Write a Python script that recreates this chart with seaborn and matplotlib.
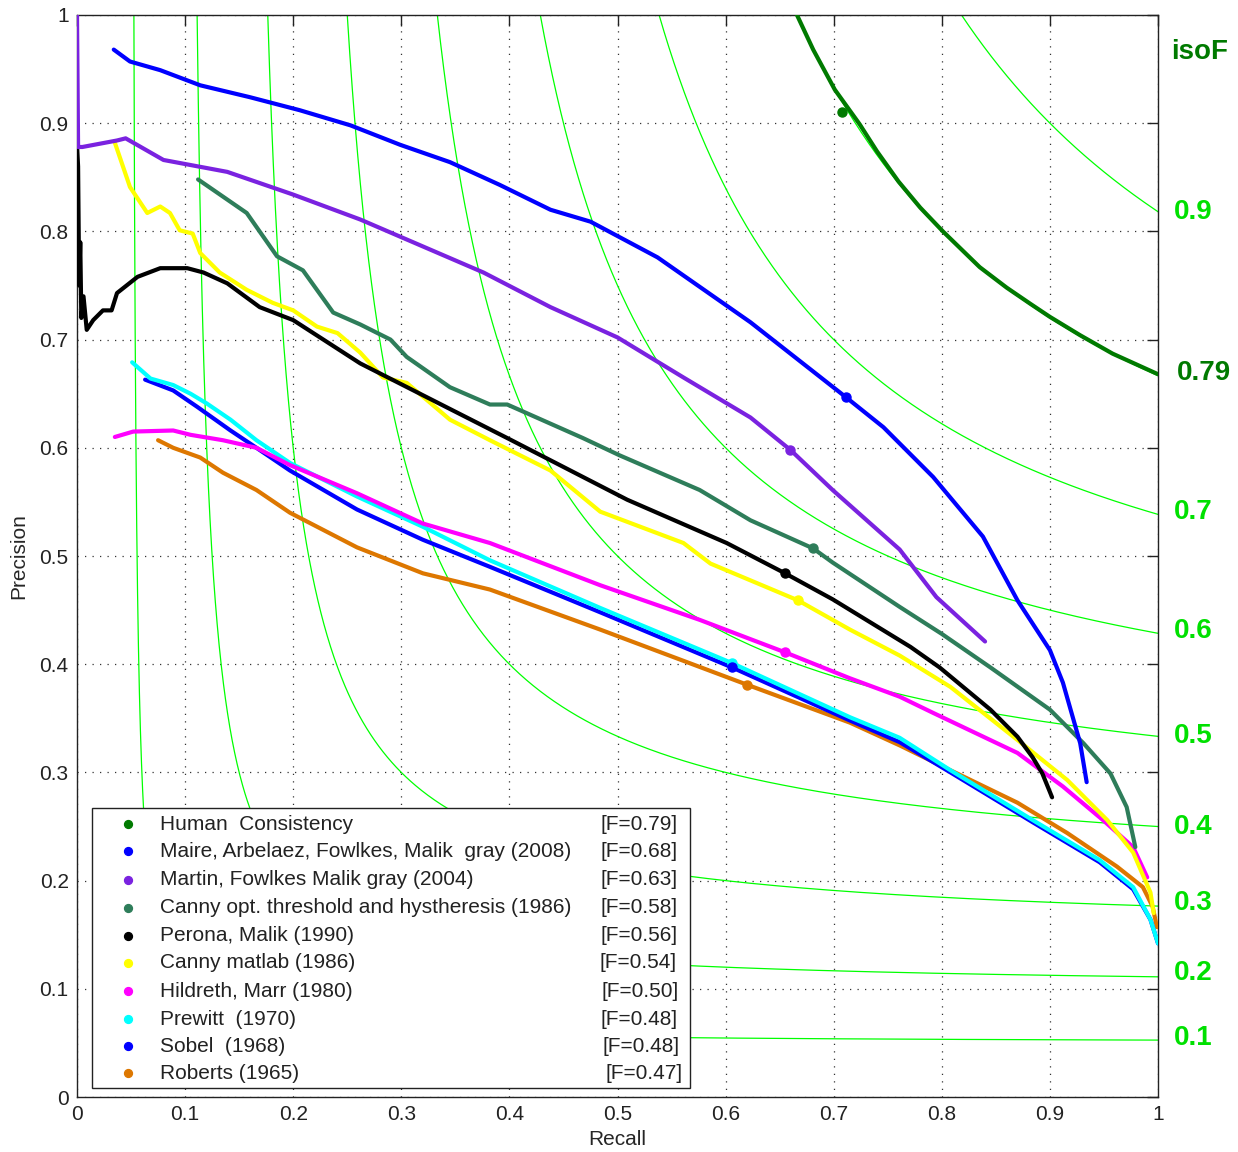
import matplotlib.pyplot as plt
import matplotlib.patches as mpatches
import seaborn as sns
import pandas as pd
import numpy as np

sns.set_style("white")
plt.rcParams['font.family'] = ['Liberation Sans', 'DejaVu Sans']

# precision / recall curves
human_r = [0.666, 0.681, 0.701, 0.724, 0.740, 0.76, 0.78, 0.801, 0.835, 0.86, 0.882, 0.9, 0.928,
           0.958, 1.0]
human_p = [1.0, 0.968, 0.931, 0.899, 0.874, 0.846, 0.822, 0.800, 0.767, 0.748, 0.733, 0.721, 0.704,
           0.687, 0.668]

gpb_r = [0.034, 0.049, 0.077, 0.114, 0.16, 0.206, 0.253, 0.299, 0.345, 0.391, 0.438, 0.475,
         0.537, 0.623, 0.711, 0.746, 0.792, 0.838, 0.870, 0.900, 0.912, 0.928, 0.934]
gpb_p = [0.968, 0.957, 0.949, 0.935, 0.924, 0.912, 0.898, 0.880, 0.864, 0.843, 0.820, 0.809,
         0.776, 0.716, 0.647, 0.619, 0.573, 0.518, 0.459, 0.413, 0.383, 0.327, 0.291]

martin_r = [0.0, 0.001, 0.005, 0.037, 0.045, 0.08, 0.139, 0.2, 0.262, 0.376, 0.438, 0.5,
            0.561, 0.623, 0.66, 0.699, 0.761, 0.795, 0.84]
martin_p = [1.0, 0.878, 0.878, 0.884, 0.886, 0.866, 0.855, 0.834, 0.811, 0.762, 0.730, 0.702,
            0.665, 0.628, 0.598, 0.561, 0.506, 0.462, 0.421]

cannyopt_r = [0.112, 0.157, 0.185, 0.209, 0.237, 0.262, 0.29, 0.305, 0.345, 0.382, 0.398, 0.468,
              0.502, 0.576, 0.623, 0.681, 0.699, 0.761, 0.80, 0.845, 0.9, 0.931, 0.956, 0.971, 0.979]
cannyopt_p = [0.848, 0.817, 0.777, 0.764, 0.725, 0.714, 0.700, 0.684, 0.656, 0.640, 0.640, 0.609,
              0.593, 0.561, 0.533, 0.507, 0.494, 0.453, 0.428, 0.397, 0.358, 0.327, 0.299, 0.268, 0.231]

perona_r = [0.0, 0.001, 0.002, 0.003, 0.004, 0.006, 0.009, 0.015, 0.024, 0.032, 0.037, 0.056,
            0.077, 0.102, 0.117, 0.139, 0.169, 0.2, 0.262, 0.398, 0.509, 0.601, 0.655, 0.699,
            0.771, 0.798, 0.845, 0.870, 0.884, 0.893, 0.902]
perona_p = [0.88, 0.86, 0.75, 0.79, 0.72, 0.74, 0.709, 0.718, 0.727, 0.727, 0.743, 0.758,
            0.766, 0.766, 0.762, 0.752, 0.730, 0.718, 0.678, 0.609, 0.552, 0.512, 0.484, 0.460,
            0.416, 0.397, 0.358, 0.333, 0.314, 0.299, 0.277]

cannymat_r = [0.035, 0.049, 0.065, 0.077, 0.086, 0.095, 0.107, 0.114, 0.132, 0.157, 0.181, 0.2,
              0.222, 0.241, 0.262, 0.283, 0.305, 0.345, 0.382, 0.438, 0.484, 0.561, 0.586, 0.667,
              0.715, 0.761, 0.808, 0.870, 0.916, 0.953, 0.977, 0.993, 0.996]
cannymat_p = [0.882, 0.841, 0.817, 0.823, 0.817, 0.801, 0.798, 0.780, 0.762, 0.746, 0.734, 0.727,
              0.712, 0.706, 0.688, 0.665, 0.660, 0.626, 0.607, 0.579, 0.541, 0.512, 0.493, 0.459,
              0.432, 0.408, 0.379, 0.330, 0.293, 0.256, 0.226, 0.189, 0.170]

hildreth_r = [0.035, 0.052, 0.089, 0.105, 0.135, 0.166, 0.197, 0.259, 0.32, 0.382, 0.484, 0.576,
              0.655, 0.715, 0.761, 0.792, 0.870, 0.912, 0.949, 0.977, 0.99]
hildreth_p = [0.610, 0.615, 0.616, 0.612, 0.607, 0.600, 0.584, 0.558, 0.530, 0.512, 0.473, 0.441,
              0.411, 0.387, 0.370, 0.355, 0.318, 0.287, 0.256, 0.231, 0.203]

prewitt_r = [0.051, 0.068, 0.089, 0.105, 0.12, 0.142, 0.166, 0.197, 0.259, 0.32, 0.382, 0.484,
             0.606, 0.715, 0.761, 0.808, 0.884, 0.946, 0.977, 0.993, 1.0]
prewitt_p = [0.679, 0.664, 0.658, 0.650, 0.641, 0.626, 0.607, 0.586, 0.555, 0.527, 0.496, 0.452,
             0.401, 0.351, 0.332, 0.302, 0.256, 0.219, 0.194, 0.164, 0.142]

sobel_r = [0.063, 0.089, 0.111, 0.142, 0.166, 0.197, 0.259, 0.32, 0.382, 0.484, 0.606, 0.715,
           0.761, 0.808, 0.884, 0.946, 0.977, 0.993, 1.0]
sobel_p = [0.663, 0.653, 0.638, 0.616, 0.600, 0.579, 0.543, 0.515, 0.490, 0.448, 0.397, 0.348,
           0.328, 0.300, 0.254, 0.217, 0.192, 0.164, 0.142]

roberts_r = [0.075, 0.089, 0.114, 0.135, 0.166, 0.197, 0.259, 0.32, 0.382, 0.484, 0.62, 0.715,
             0.761, 0.808, 0.870, 0.916, 0.962, 0.986, 0.995, 0.999]
roberts_p = [0.607, 0.600, 0.591, 0.577, 0.561, 0.540, 0.508, 0.484, 0.469, 0.432, 0.381, 0.346,
             0.325, 0.302, 0.272, 0.244, 0.213, 0.194, 0.176, 0.157]

# legend order
names = ["Human  Consistency", "Maire, Arbelaez, Fowlkes, Malik  gray (2008)",
         "Martin, Fowlkes Malik gray (2004)", "Canny opt. threshold and hystheresis (1986)",
         "Perona, Malik (1990)", "Canny matlab (1986)", "Hildreth, Marr (1980)",
         "Prewitt  (1970)", "Sobel  (1968)", "Roberts (1965)"]
fscores = ["[F=0.79]", "[F=0.68]", "[F=0.63]", "[F=0.58]", "[F=0.56]", "[F=0.54]",
           "[F=0.50]", "[F=0.48]", "[F=0.48]", "[F=0.47]"]
colors = ["#007a00", "#0000ff", "#7a22e0", "#2e7d5a", "#000000", "#ffff00",
          "#ff00ff", "#00ffff", "#0000ff", "#dd7700"]
curves_r = [human_r, gpb_r, martin_r, cannyopt_r, perona_r, cannymat_r, hildreth_r,
            prewitt_r, sobel_r, roberts_r]
curves_p = [human_p, gpb_p, martin_p, cannyopt_p, perona_p, cannymat_p, hildreth_p,
            prewitt_p, sobel_p, roberts_p]
# best-F point on each curve
best_r = [0.708, 0.711, 0.66, 0.681, 0.655, 0.667, 0.655, 0.606, 0.606, 0.62]
best_p = [0.91, 0.647, 0.598, 0.507, 0.484, 0.459, 0.411, 0.401, 0.397, 0.381]

iso_levels = [0.1, 0.2, 0.3, 0.4, 0.5, 0.6, 0.7, 0.8, 0.9]
iso_labels = ["0.1", "0.2", "0.3", "0.4", "0.5", "0.6", "0.7", "0.9"]
iso_label_y = [0.055, 0.115, 0.179, 0.25, 0.334, 0.431, 0.541, 0.818]

fig = plt.figure(figsize=(12.38, 11.52), dpi=100)
ax = fig.add_axes([0.0622, 0.0477, 0.8732, 0.9393])

# iso-F guide curves, from the top edge (P=1) down to R=1
for f in iso_levels:
    r0 = f / (2 - f)
    t = np.linspace(0, 1, 800)
    r = r0 + (1 - r0) * t ** 3
    p = f * r / (2 * r - f)
    sns.lineplot(x=r, y=p, sort=False, estimator=None, color="#00ff00",
                 linewidth=0.9, ax=ax, zorder=2)

for i in range(len(names)):
    df = pd.DataFrame({"Recall": curves_r[i], "Precision": curves_p[i]})
    sns.lineplot(data=df, x="Recall", y="Precision", sort=False, estimator=None,
                 color=colors[i], linewidth=3.0, ax=ax, zorder=3 + (10 - i) * 0.1)
    ax.plot(best_r[i], best_p[i], "o", color=colors[i], markersize=6.5, zorder=4)

ax.set_xlim(0, 1)
ax.set_ylim(0, 1)
ticks = np.arange(0, 1.01, 0.1)
tick_txt = ["0"] + [f"{t:.1f}" for t in ticks[1:-1]] + ["1"]
ax.set_xticks(ticks)
ax.set_yticks(ticks)
ax.set_xticklabels(tick_txt)
ax.set_yticklabels(tick_txt)
ax.tick_params(direction="in", top=True, right=True, length=8, width=1,
               labelsize=15, pad=6, colors="#222222")
ax.grid(True, color="#333333", linestyle=(0, (1, 5)), linewidth=0.9)
for s in ax.spines.values():
    s.set_color("#222222")
    s.set_linewidth(1.0)
ax.set_xlabel("Recall", fontsize=15, labelpad=4)
ax.set_ylabel("Precision", fontsize=15, labelpad=8)

# iso-F labels on the right
for lab, y in zip(iso_labels, iso_label_y):
    ax.text(1.015, y, lab, transform=ax.transAxes, color="#00e000", fontsize=20,
            fontweight="bold", va="center", ha="left")
ax.text(1.017, 0.669, "0.79", transform=ax.transAxes, color="#007a00", fontsize=20,
        fontweight="bold", va="center", ha="left")
ax.text(1.012, 0.966, "isoF", transform=ax.transAxes, color="#007a00", fontsize=20,
        fontweight="bold", va="center", ha="left")

# legend box
box = mpatches.Rectangle((0.0139, 0.0083), 0.553, 0.2587, transform=ax.transAxes,
                         facecolor="white", edgecolor="#222222", linewidth=1.0, zorder=10)
ax.add_patch(box)
row_y = [0.252, 0.227, 0.201, 0.175, 0.149, 0.124, 0.098, 0.072, 0.047, 0.022]
f_x = [0.556, 0.556, 0.556, 0.556, 0.556, 0.555, 0.557, 0.556, 0.557, 0.560]
for i in range(len(names)):
    ax.scatter([0.047], [row_y[i]], s=32, color=colors[i], transform=ax.transAxes,
               zorder=11, clip_on=False)
    ax.text(0.077, row_y[i], names[i], transform=ax.transAxes, fontsize=15,
            va="center", ha="left", color="#222222", zorder=11)
    ax.text(f_x[i], row_y[i], fscores[i], transform=ax.transAxes, fontsize=15,
            va="center", ha="right", color="#222222", zorder=11)

plt.savefig("out.png", dpi=100)
plt.close()
